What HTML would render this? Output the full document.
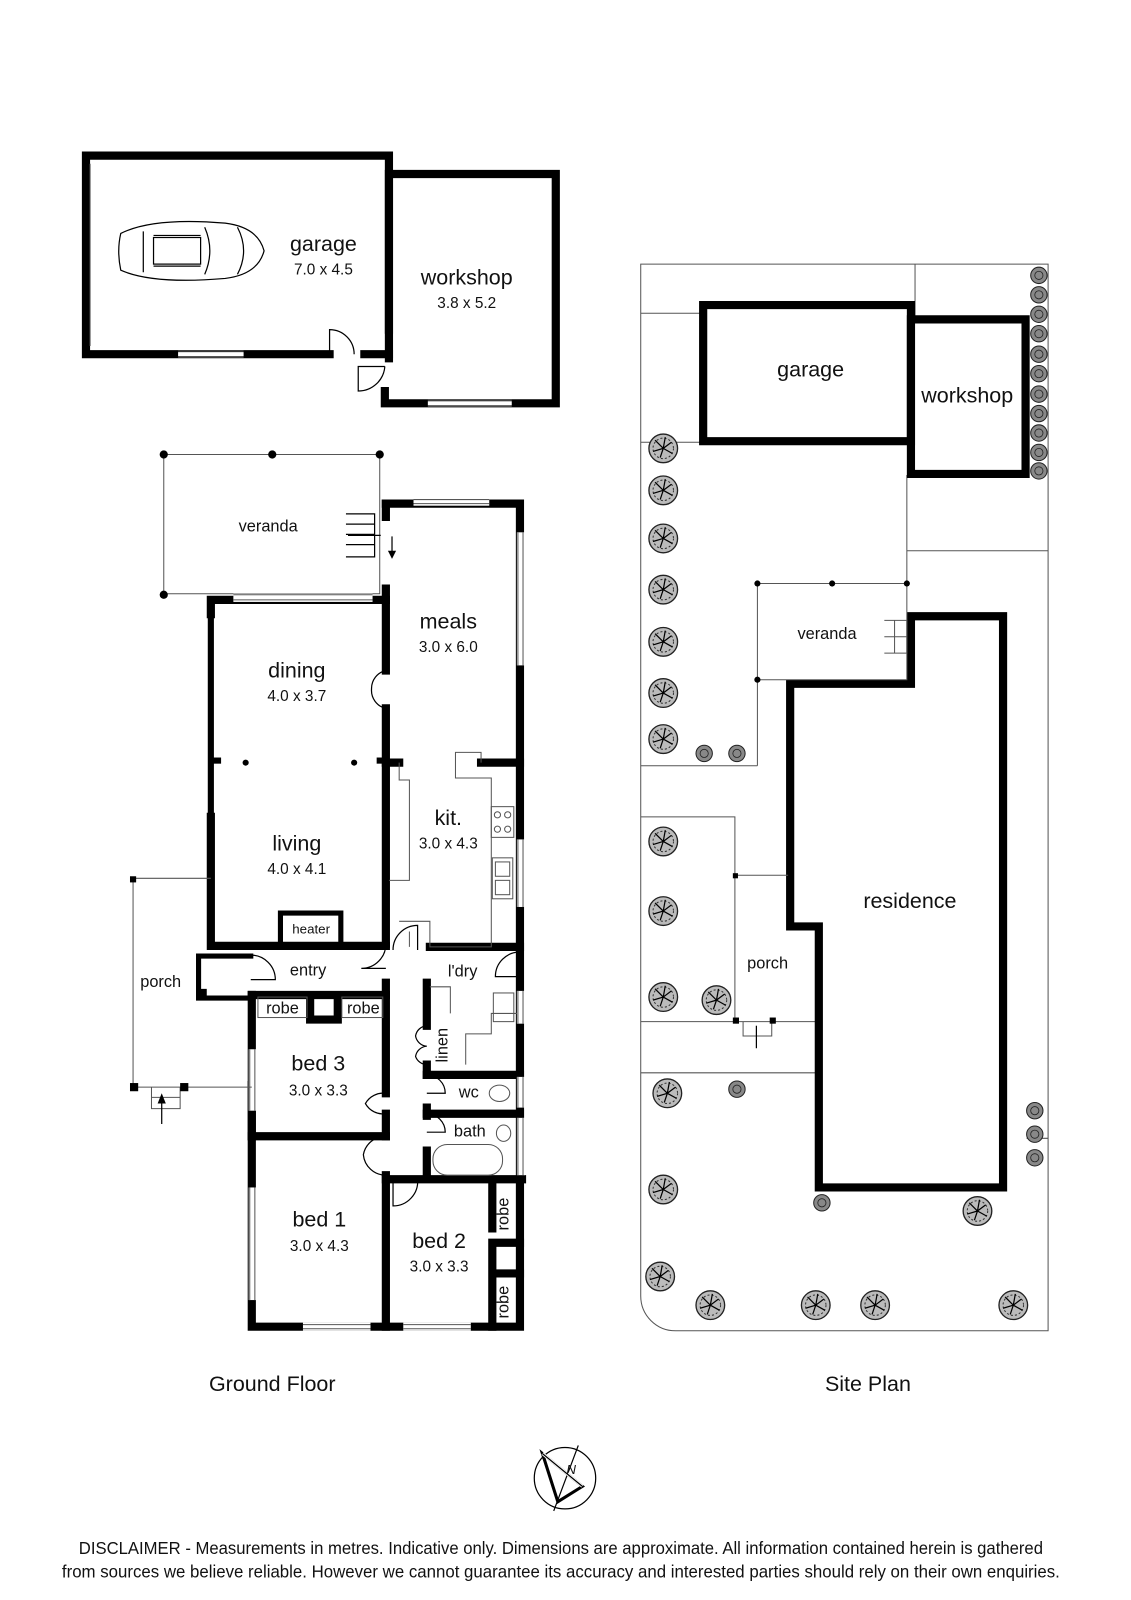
<!DOCTYPE html>
<html><head><meta charset="utf-8"><style>
html,body{margin:0;padding:0;background:#fff}
svg{display:block}
text{font-family:"Liberation Sans",sans-serif;fill:#111}
.w{fill:none;stroke:#000;stroke-width:8;stroke-linecap:square}
.t{fill:none;stroke:#555;stroke-width:1}
.k{fill:none;stroke:#000;stroke-width:1.2}
.tr{fill:#bbb;stroke:#222;stroke-width:1.3}
.lbl{font-size:21px;text-anchor:middle}
.dim{font-size:15px;text-anchor:middle}
.sm{font-size:16px;text-anchor:middle}
</style></head><body>
<svg width="1131" height="1600" viewBox="0 0 1105 1563" preserveAspectRatio="none" xmlns="http://www.w3.org/2000/svg">
<defs>
<g id="tree"><circle r="14" class="tr"/><circle r="10" fill="none" stroke="#333" stroke-width="1" stroke-dasharray="2 2"/><path d="M0 0L-8 -8M0 0L8 -6M0 0L-3 9M0 0L9 5M0 0L-10 3M0 0L2 -11" class="k" stroke-width="0.8"/></g>
<g id="stree"><circle r="8" fill="#888" stroke="#222" stroke-width="1"/><circle r="4" fill="none" stroke="#222" stroke-width="0.8"/></g>
</defs>

<!-- garage block -->
<path class="w" d="M84 152H380V322M84 152V346H322M356 346H380"/>
<line x1="88" y1="160" x2="88" y2="338" class="t"/>
<line x1="174" y1="346" x2="238" y2="346" stroke="#fff" stroke-width="4"/>
<line x1="174" y1="343" x2="238" y2="343" class="t"/><line x1="174" y1="349" x2="238" y2="349" class="t"/>
<path d="M322 346V322A24 24 0 0 1 346 346" class="k"/>
<path class="w" d="M380 170H543V394H376V382M380 170V350"/>
<line x1="418" y1="394" x2="500" y2="394" stroke="#fff" stroke-width="4"/>
<line x1="418" y1="391" x2="500" y2="391" class="t"/><line x1="418" y1="397" x2="500" y2="397" class="t"/>
<path d="M376 358H350V382A26 26 0 0 0 376 358" class="k"/>
<!-- car -->
<g class="k" stroke-width="1.3">
<path d="M118 228Q114 245 118 264Q150 278 220 272Q252 268 258 245Q252 222 220 218Q150 212 118 228Z"/>
<path d="M140 226V266M200 222Q210 245 200 268M232 222Q244 245 232 268M150 230H196M150 260H196"/>
<rect x="150" y="232" width="46" height="26"/>
</g>
<text x="316" y="245" class="lbl">garage</text><text x="316" y="268" class="dim">7.0 x 4.5</text>
<text x="456" y="278" class="lbl">workshop</text><text x="456" y="301" class="dim">3.8 x 5.2</text>

<!-- veranda -->
<path d="M160 444H371V580H160Z" class="t"/>
<g fill="#000"><circle cx="160" cy="444" r="4"/><circle cx="266" cy="444" r="4"/><circle cx="371" cy="444" r="4"/><circle cx="160" cy="581" r="4"/></g>
<path d="M338 502H366V544H338M338 512H366M338 522H366M338 532H366M340 523H372" class="k" stroke-width="0.8"/>
<path d="M383 524V544" class="k"/><path d="M379 538L383 546L387 538" fill="#000"/>
<text x="262" y="519" class="sm">veranda</text>

<!-- house walls -->
<g class="w">
<path d="M377 492V505M377 575V655M377 692V922M377 960V1068M377 1088V1110M377 1148V1296"/>
<path d="M377 492H508V1296H246V972"/>
<path d="M206 586V600M206 798V924H377M206 586H377"/>
<path d="M206 600V800" stroke-width="6"/>
<path d="M194 934H245M194 975H245M194 934V975" stroke-width="5"/>
<path d="M246 972H377M246 1110H377M377 1152H510"/>
<path d="M246 1060V1110" />
<path d="M377 745H390M470 745H508"/>
<path d="M420 925H508"/>
<path d="M417 960V1002M417 1040V1050M417 1082V1090M417 1124V1150"/>
<path d="M417 1050H508M417 1088H508"/>
<path d="M303 974V996H330V974"/>
<path d="M274 892H333V925M274 892V925" stroke-width="5"/>
<path d="M481 1156V1200M481 1220V1236M481 1250V1296M481 1214H508M481 1244H508"/>
</g>
<!-- windows -->
<g>
<rect x="228" y="580" width="136" height="8" fill="#fff"/><path d="M228 581H364M228 586H364" class="t"/>
<rect x="404" y="486" width="74" height="8" fill="#fff"/><path d="M404 488H478M404 492H478" class="t"/>
<rect x="505" y="520" width="8" height="130" fill="#fff"/><path d="M506 520V650M511 520V650" class="t"/>
<rect x="505" y="820" width="8" height="66" fill="#fff"/><path d="M506 820V886M511 820V886" class="t"/>
<rect x="243" y="1025" width="8" height="60" fill="#fff"/><path d="M244 1025V1085M249 1025V1085" class="t"/>
<rect x="243" y="1160" width="8" height="110" fill="#fff"/><path d="M244 1160V1270M249 1160V1270" class="t"/>
<rect x="296" y="1292" width="66" height="8" fill="#fff"/><path d="M296 1294H362M296 1298H362" class="t"/>
<rect x="394" y="1292" width="66" height="8" fill="#fff"/><path d="M394 1294H460M394 1298H460" class="t"/>
<rect x="505" y="968" width="8" height="32" fill="#fff"/><path d="M506 968V1000M511 968V1000" class="t"/>
<rect x="505" y="1052" width="8" height="30" fill="#fff"/><path d="M506 1052V1082M511 1052V1082" class="t"/>
<rect x="505" y="1092" width="8" height="56" fill="#fff"/><path d="M506 1092V1148M511 1092V1148" class="t"/>
</g>
<!-- doors arcs -->
<g class="k" stroke-width="1">
<path d="M377 655A18 18 0 0 0 363 673A18 18 0 0 0 377 692"/>
<path d="M377 922A24 24 0 0 1 353 946H377"/>
<path d="M245 933A24 24 0 0 1 269 957H245"/>
<path d="M377 1068A20 20 0 0 0 357 1078A20 20 0 0 0 377 1088" />
<path d="M377 1110A22 22 0 0 0 355 1128A22 22 0 0 0 377 1148"/>
<path d="M384 928A24 24 0 0 1 408 904V928"/>
<path d="M508 930A24 24 0 0 0 484 954H508"/>
<path d="M417 1050A18 18 0 0 1 435 1068H417M417 1088A18 18 0 0 1 435 1106H417"/>
<path d="M417 1002A12 12 0 0 0 406 1012A12 12 0 0 0 417 1022A12 12 0 0 0 406 1032A12 12 0 0 0 417 1040"/>
<path d="M384 1152V1178A24 24 0 0 0 408 1152"/>
</g>
<g fill="#000"><circle cx="240" cy="745" r="3"/><circle cx="346" cy="745" r="3"/><rect x="206" y="740" width="10" height="6"/><rect x="368" y="740" width="10" height="6"/></g>
<!-- kitchen fittings -->
<g class="t">
<path d="M390 745V762H400V860H380M400 910V925M470 745V735H445V760H480V925H420V900H390"/>
<rect x="480" y="788" width="22" height="30"/><circle cx="486" cy="796" r="3"/><circle cx="496" cy="796" r="3"/><circle cx="486" cy="810" r="3"/><circle cx="496" cy="810" r="3"/>
<rect x="481" y="838" width="20" height="40"/><rect x="484" y="842" width="14" height="14"/><rect x="484" y="860" width="14" height="14"/>
<path d="M420 964H440V990M455 1040V1010H480V990H505"/>
<rect x="482" y="970" width="20" height="28"/>
<rect x="423" y="1118" width="68" height="30" rx="14"/>
<ellipse cx="488" cy="1068" rx="10" ry="8"/><ellipse cx="492" cy="1107" rx="7" ry="8"/>
<rect x="252" y="974" width="48" height="20"/><rect x="334" y="974" width="40" height="20"/>
</g>
<!-- porch -->
<path d="M130 858H206M130 858V1062M130 1062H246M148 1062V1083H176V1062M148 1072H176" class="t"/>
<g fill="#000"><rect x="127" y="856" width="6" height="6"/><rect x="127" y="1058" width="8" height="8"/><rect x="176" y="1058" width="8" height="8"/><rect x="194" y="966" width="8" height="8"/></g>
<path d="M158 1098V1072" class="k"/><path d="M154 1078L158 1068L162 1078" fill="#000"/>

<text x="438" y="614" class="lbl">meals</text><text x="438" y="637" class="dim">3.0 x 6.0</text>
<text x="290" y="662" class="lbl">dining</text><text x="290" y="685" class="dim">4.0 x 3.7</text>
<text x="290" y="831" class="lbl">living</text><text x="290" y="854" class="dim">4.0 x 4.1</text>
<text x="438" y="806" class="lbl">kit.</text><text x="438" y="829" class="dim">3.0 x 4.3</text>
<text x="304" y="912" font-size="13" text-anchor="middle">heater</text>
<text x="301" y="953" class="sm">entry</text>
<text x="452" y="954" class="sm">l'dry</text>
<text x="157" y="964" class="sm">porch</text>
<text x="276" y="990" class="sm">robe</text><text x="355" y="990" class="sm">robe</text>
<text x="311" y="1046" class="lbl">bed 3</text><text x="311" y="1070" class="dim">3.0 x 3.3</text>
<text x="458" y="1072" class="sm">wc</text><text x="459" y="1110" class="sm">bath</text>
<text x="312" y="1198" class="lbl">bed 1</text><text x="312" y="1222" class="dim">3.0 x 4.3</text>
<text x="429" y="1219" class="lbl">bed 2</text><text x="429" y="1242" class="dim">3.0 x 3.3</text>
<text transform="translate(437,1021) rotate(-90)" class="sm">linen</text>
<text transform="translate(497,1186) rotate(-90)" class="sm">robe</text>
<text transform="translate(497,1272) rotate(-90)" class="sm">robe</text>

<!-- Site plan -->
<path d="M626 258H1024V1300H660A34 34 0 0 1 626 1266Z" class="t"/>
<path d="M626 306H685M894 258V311M626 432H685M886 464V570M886 538H1024M626 748H740M740 664V748M626 798H718V855M626 998H798M626 1048H798M1003 1112H1024" class="t"/>
<path class="w" d="M687 298H890V431H687Z"/>
<path class="w" d="M890 312H1002V463H890Z"/>
<path class="w" d="M890 602H980V1160H800V905H772V668H890Z"/>
<path d="M740 570H886V664H740Z" class="t"/>
<g fill="#000"><circle cx="740" cy="570" r="3"/><circle cx="813" cy="570" r="3"/><circle cx="886" cy="570" r="3"/><circle cx="740" cy="664" r="3"/></g>
<path d="M864 606H886V638H864M874 606V638M864 622H886" class="t"/>
<path d="M718 855H770M718 855V998M726 998V1012H754V998" class="t"/>
<g fill="#000"><rect x="716" y="853" width="5" height="5"/><rect x="716" y="994" width="6" height="6"/><rect x="752" y="994" width="6" height="6"/></g>
<path d="M739 1024V1002" class="k"/>
<text x="792" y="368" class="lbl">garage</text>
<text x="945" y="393" class="lbl">workshop</text>
<text x="808" y="624" class="sm">veranda</text>
<text x="889" y="887" class="lbl">residence</text>
<text x="750" y="946" class="sm">porch</text>
<g>
<use href="#tree" x="648" y="438"/><use href="#tree" x="648" y="479"/><use href="#tree" x="648" y="526"/><use href="#tree" x="648" y="576"/><use href="#tree" x="648" y="627"/><use href="#tree" x="648" y="677"/><use href="#tree" x="648" y="722"/>
<use href="#tree" x="648" y="822"/><use href="#tree" x="648" y="890"/><use href="#tree" x="648" y="974"/><use href="#tree" x="700" y="977"/>
<use href="#tree" x="652" y="1068"/><use href="#tree" x="648" y="1162"/><use href="#tree" x="645" y="1247"/><use href="#tree" x="694" y="1275"/>
<use href="#tree" x="797" y="1275"/><use href="#tree" x="855" y="1275"/><use href="#tree" x="990" y="1275"/><use href="#tree" x="955" y="1183"/>
<use href="#stree" x="688" y="736"/><use href="#stree" x="720" y="736"/><use href="#stree" x="720" y="1064"/><use href="#stree" x="803" y="1175"/>
<use href="#stree" x="1011" y="1085"/><use href="#stree" x="1011" y="1108"/><use href="#stree" x="1011" y="1131"/>
<use href="#stree" x="1015" y="269"/><use href="#stree" x="1015" y="288"/><use href="#stree" x="1015" y="307"/><use href="#stree" x="1015" y="326"/><use href="#stree" x="1015" y="346"/><use href="#stree" x="1015" y="365"/><use href="#stree" x="1015" y="385"/><use href="#stree" x="1015" y="404"/><use href="#stree" x="1015" y="423"/><use href="#stree" x="1015" y="442"/><use href="#stree" x="1015" y="460"/>
</g>

<text x="266" y="1359" class="lbl">Ground Floor</text>
<text x="848" y="1359" class="lbl">Site Plan</text>

<!-- compass -->
<circle cx="552" cy="1444" r="30" class="k" stroke-width="1"/>
<path d="M565 1412L541 1476" class="k" stroke-width="0.8"/>
<path d="M530 1420L545 1467L569 1452Z" fill="none" stroke="#000" stroke-width="3" stroke-linejoin="miter"/>
<path d="M530 1420L569 1452" stroke="#fff" stroke-width="3"/>
<path d="M530 1420L569 1452" class="k" stroke-width="0.8"/>
<text x="558" y="1440" font-size="13" font-style="italic" text-anchor="middle">N</text>

<text x="548" y="1518" font-size="17" text-anchor="middle" textLength="942" lengthAdjust="spacingAndGlyphs">DISCLAIMER - Measurements in metres. Indicative only. Dimensions are approximate. All information contained herein is gathered</text>
<text x="548" y="1541" font-size="17" text-anchor="middle" textLength="975" lengthAdjust="spacingAndGlyphs">from sources we believe reliable. However we cannot guarantee its accuracy and interested parties should rely on their own enquiries.</text>
</svg>
</body></html>
